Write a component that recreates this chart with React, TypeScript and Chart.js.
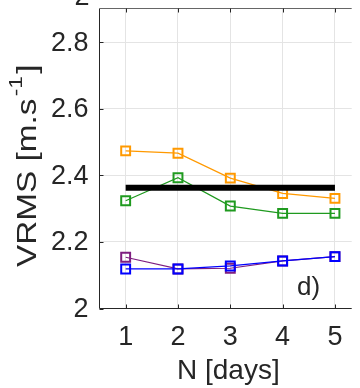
import React, { useEffect, useRef } from "react";
import { Chart, registerables } from "chart.js";

Chart.register(...registerables);

const days = [1, 2, 3, 4, 5];
const xTickValues = [1, 2, 3, 4, 5];
const yTickValues = [2, 2.2, 2.4, 2.6, 2.8];
const yTickLabels = ["2", "2.2", "2.4", "2.6", "2.8"];
const orangeSeries = [2.474, 2.467, 2.392, 2.346, 2.331];
const greenSeries = [2.324, 2.393, 2.308, 2.286, 2.286];
const purpleSeries = [2.154, 2.119, 2.121, 2.143, 2.156];
const blueSeries = [2.119, 2.119, 2.128, 2.143, 2.156];
const blackLevel = 2.363;

const FONT = '"Liberation Sans", Arial, Helvetica, sans-serif';
const TEXT = "#262626";

const pts = (vals: number[]) => days.map((d, i) => ({ x: d, y: vals[i] }));

const series = (label: string, vals: number[], color: string) => ({
  label,
  data: pts(vals),
  borderColor: color,
  backgroundColor: "transparent",
  borderWidth: 1.2,
  pointStyle: "rect",
  pointRadius: 6.3,
  pointBorderWidth: 2,
  pointBorderColor: color,
  pointBackgroundColor: "transparent",
  tension: 0,
});

const decorPlugin = {
  id: "decor",
  afterDraw(chart: any) {
    const ctx = chart.ctx;
    const { left, right, top, bottom } = chart.chartArea;
    const xs = chart.scales.x;
    const ys = chart.scales.y;
    ctx.save();
    // axes
    ctx.strokeStyle = TEXT;
    ctx.lineWidth = 1;
    ctx.beginPath();
    ctx.moveTo(left, top);
    ctx.lineTo(left, bottom);
    ctx.lineTo(right, bottom);
    ctx.stroke();
    ctx.strokeStyle = "#666";
    ctx.beginPath();
    ctx.moveTo(left, top);
    ctx.lineTo(right, top);
    ctx.stroke();
    // inward ticks
    ctx.strokeStyle = TEXT;
    ctx.beginPath();
    xTickValues.forEach((v) => {
      const px = Math.round(xs.getPixelForValue(v)) + 0.5;
      ctx.moveTo(px, bottom);
      ctx.lineTo(px, bottom - 4);
      ctx.moveTo(px, top);
      ctx.lineTo(px, top + 4);
    });
    yTickValues.forEach((v) => {
      const py = Math.round(ys.getPixelForValue(v)) + 0.5;
      ctx.moveTo(left, py);
      ctx.lineTo(left + 4, py);
    });
    ctx.stroke();
    // tick labels
    ctx.fillStyle = TEXT;
    ctx.font = `27px ${FONT}`;
    ctx.textAlign = "right";
    ctx.textBaseline = "middle";
    yTickValues.forEach((v, i) => {
      ctx.fillText(yTickLabels[i], left - 11, ys.getPixelForValue(v) + 1);
    });
    // clipped label at top
    ctx.textBaseline = "alphabetic";
    ctx.fillText("2", left - 10, 5);
    ctx.textAlign = "center";
    xTickValues.forEach((v) => {
      ctx.fillText(String(v), xs.getPixelForValue(v), 345);
    });
    // x title
    ctx.font = `28px ${FONT}`;
    ctx.fillText("N [days]", xs.getPixelForValue(3) - 2, 379);
    // panel label
    ctx.font = `26px ${FONT}`;
    ctx.textAlign = "left";
    ctx.fillText("d)", 297, 295);
    // y title with superscript
    ctx.translate(36, 267);
    ctx.rotate(-Math.PI / 2);
    ctx.scale(1.19, 1);
    ctx.font = `28px ${FONT}`;
    const main = "VRMS [m.s";
    ctx.fillText(main, 0, 0);
    let w = ctx.measureText(main).width + 2;
    ctx.font = `19px ${FONT}`;
    ctx.fillText("-1", w, -14);
    w += ctx.measureText("-1").width + 2;
    ctx.font = `28px ${FONT}`;
    ctx.fillText("]", w, 0);
    ctx.restore();
  },
};

export default function App() {
  const ref = useRef<HTMLCanvasElement | null>(null);
  useEffect(() => {
    document.body.style.margin = "0";
    if (!ref.current) return;
    const chart = new Chart(ref.current, {
      type: "line",
      data: {
        datasets: [
          {
            label: "mean",
            data: days.map((d) => ({ x: d, y: blackLevel })),
            borderColor: "#000000",
            borderWidth: 6,
            borderCapStyle: "butt",
            pointRadius: 0,
            fill: false,
          } as any,
          series("blue", blueSeries, "#0000ff"),
          series("purple", purpleSeries, "#7e1e80"),
          series("green", greenSeries, "#1f9a1f"),
          series("orange", orangeSeries, "#ff9900"),
        ],
      },
      options: {
        animation: false,
        responsive: false,
        devicePixelRatio: 1,
        layout: { padding: { left: 0, right: 0, top: 8.5, bottom: 0 } },
        plugins: {
          legend: { display: false },
          tooltip: { enabled: false },
        },
        scales: {
          x: {
            type: "linear",
            min: 0.5,
            max: 5.32,
            afterBuildTicks: (s: any) => {
              s.ticks = xTickValues.map((v) => ({ value: v }));
            },
            afterFit: (s: any) => {
              s.height = 79.5;
            },
            ticks: { display: false },
            grid: { color: "#e4e4e4", lineWidth: 1, drawTicks: false },
            border: { display: false },
          },
          y: {
            type: "linear",
            min: 2,
            max: 2.902,
            afterBuildTicks: (s: any) => {
              s.ticks = yTickValues.map((v) => ({ value: v }));
            },
            afterFit: (s: any) => {
              s.width = 99.5;
            },
            ticks: { display: false },
            grid: { color: "#e4e4e4", lineWidth: 1, drawTicks: false },
            border: { display: false },
          },
        },
      } as any,
      plugins: [decorPlugin],
    });
    return () => chart.destroy();
  }, []);
  return (
    <div style={{ position: "absolute", left: 0, top: 0, width: 360, height: 388 }}>
      <canvas ref={ref} width={360} height={388} />
    </div>
  );
}
